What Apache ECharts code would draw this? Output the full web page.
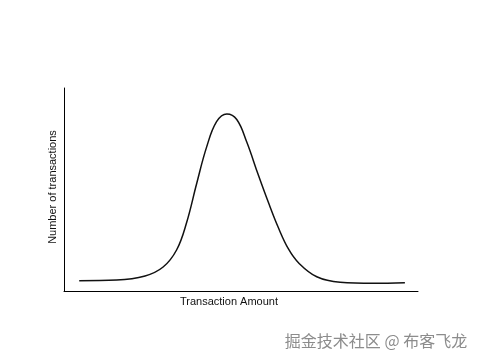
<!DOCTYPE html>
<html>
<head>
<meta charset="utf-8">
<script src="https://cdn.jsdelivr.net/npm/echarts@6/dist/echarts.min.js"></script>
<style>
html,body{margin:0;padding:0;background:#fff;}
#c{width:480px;height:360px;}
</style>
</head>
<body>
<div id="c"></div>
<script>
var xValues = [4.3, 14.9, 22.9, 28.0, 31.8, 34.6, 37.5, 40.3, 43.1, 46.0, 48.8, 51.6, 54.9, 57.7, 60.6, 63.4, 66.3, 71.4, 78.0, 87.4, 96.3];
var yValues = [5.1, 5.4, 7.4, 11.8, 20.2, 33.5, 53.1, 71.0, 83.4, 87.2, 84.5, 73.5, 57.1, 43.8, 31.0, 20.7, 13.8, 7.0, 4.3, 3.8, 4.1];
var xTitle = 'Transaction Amount';
var yTitle = 'Number of transactions';
var watermark = '掘金技术社区 @ 布客飞龙';

var pts = xValues.map(function(x, i){ return [x, yValues[i]]; });
var chart = echarts.init(document.getElementById('c'), null, {renderer:'canvas'});
chart.setOption({
  animation: false,
  backgroundColor: '#ffffff',
  grid: {left: 64, top: 88, width: 354, height: 203},
  xAxis: {
    type: 'value', min: 0, max: 100,
    axisLine: {show: true, onZero: false, lineStyle: {color: '#000', width: 1}},
    axisTick: {show: false}, axisLabel: {show: false}, splitLine: {show: false}
  },
  yAxis: {
    type: 'value', min: 0, max: 100,
    axisLine: {show: true, onZero: false, lineStyle: {color: '#000', width: 1}},
    axisTick: {show: false}, axisLabel: {show: false}, splitLine: {show: false}
  },
  series: [{
    type: 'line',
    data: pts,
    smooth: 0.4,
    showSymbol: false,
    lineStyle: {color: '#111', width: 1.5}
  }],
  graphic: [
    {type: 'text', x: 229, y: 302, style: {text: xTitle, font: '11px "Liberation Sans", Arial, sans-serif', fill: '#111', align: 'center', verticalAlign: 'middle'}},
    {type: 'text', x: 52.5, y: 187, rotation: Math.PI/2, style: {text: yTitle, font: '11px "Liberation Sans", Arial, sans-serif', fill: '#111', align: 'center', verticalAlign: 'middle'}},
    {type: 'text', x: 376, y: 341, style: {text: watermark, font: '16px "Noto Sans CJK SC", sans-serif', fill: '#8c8c8c', align: 'center', verticalAlign: 'middle'}}
  ]
});
</script>
</body>
</html>
